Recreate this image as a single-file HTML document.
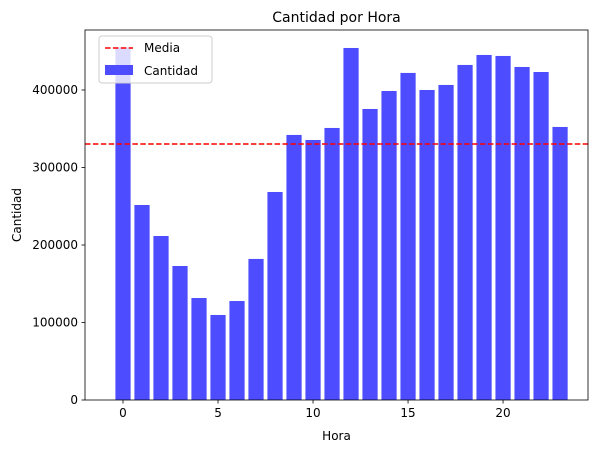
<!DOCTYPE html>
<html><head><meta charset="utf-8"><style>
body{margin:0;background:#fff;font-family:"Liberation Sans","DejaVu Sans",sans-serif;}
svg text{font-family:"DejaVu Sans","Liberation Sans",sans-serif;}
</style></head><body>
<svg id="c" width="598" height="453" xmlns="http://www.w3.org/2000/svg"></svg>
<script>
const hours=[0,1,2,3,4,5,6,7,8,9,10,11,12,13,14,15,16,17,18,19,20,21,22,23];
const counts=[455000,251600,211600,172900,131600,109700,127700,182000,268400,342000,335500,351000,454200,375500,398700,422000,400000,406500,432300,445200,443900,429700,423200,352300];
const meanValue=330300;
const xTicks=[0,5,10,15,20];
const yTicks=[0,100000,200000,300000,400000];
const L=85,R=588,T=30,B=400;
const xmin=-2,xmax=24.47,ymin=0,ymax=477400;
const sx=v=>L+(v-xmin)/(xmax-xmin)*(R-L);
const sy=v=>B-(v-ymin)/(ymax-ymin)*(B-T);
const svg=document.getElementById('c');
const NS='http://www.w3.org/2000/svg';
function mk(t,a){const e=document.createElementNS(NS,t);for(const k in a)e.setAttribute(k,a[k]);svg.appendChild(e);return e;}
const bw=sx(0.8)-sx(0);
hours.forEach((h,i)=>{
 const r=mk('rect',{x:sx(h-0.4),y:sy(counts[i]),width:bw,height:sy(0)-sy(counts[i]),fill:'#4d4dff'});
 
 
});
const ml=mk('line',{x1:L,x2:R,y1:sy(meanValue),y2:sy(meanValue),stroke:'#ff0000','stroke-width':1.5,'stroke-dasharray':'5.5,2.4'});


const fr=mk('rect',{x:L,y:T,width:R-L,height:B-T,fill:'none',stroke:'#000','stroke-width':0.8});


xTicks.forEach(v=>{
 mk('line',{x1:sx(v),x2:sx(v),y1:B,y2:B+3.5,stroke:'#000','stroke-width':0.8});
 const t=mk('text',{x:sx(v),y:B+17,'text-anchor':'middle','font-size':12});t.textContent=v;
 
 
});
yTicks.forEach(v=>{
 mk('line',{x1:L-3.5,x2:L,y1:sy(v),y2:sy(v),stroke:'#000','stroke-width':0.8});
 const t=mk('text',{x:L-7,y:sy(v)+4,'text-anchor':'end','font-size':12});t.textContent=v;
 
 
});
let t=mk('text',{x:(L+R)/2,y:22,'text-anchor':'middle','font-size':14});t.textContent='Cantidad por Hora';

t=mk('text',{x:(L+R)/2,y:440,'text-anchor':'middle','font-size':12});t.textContent='Hora';

t=mk('text',{x:21,y:(T+B)/2,'text-anchor':'middle','font-size':12,transform:'rotate(-90 21 '+((T+B)/2)+')'});t.textContent='Cantidad';

const lg=mk('rect',{x:99,y:36,width:113,height:47,fill:'#fff','fill-opacity':0.8,stroke:'#ccc',rx:3});

mk('line',{x1:105,x2:133,y1:48,y2:48,stroke:'#ff0000','stroke-width':1.5,'stroke-dasharray':'5.5,2.4'});
t=mk('text',{x:144,y:52,'font-size':12});t.textContent='Media';

mk('rect',{x:105,y:65,width:28,height:10,fill:'#4d4dff'});
t=mk('text',{x:144,y:75,'font-size':12});t.textContent='Cantidad';

</script>
</body></html>
